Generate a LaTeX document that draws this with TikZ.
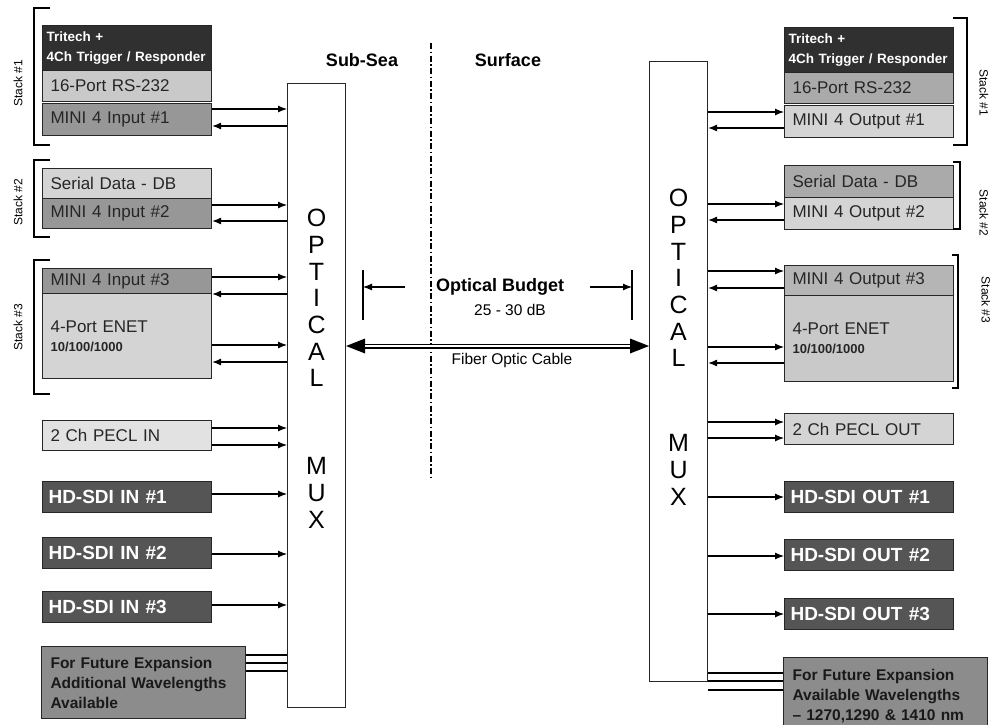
\documentclass[tikz,border=0pt]{standalone}
\usepackage{fontspec}
\setmainfont{Liberation Sans}
\usetikzlibrary{
    arrows.meta,
    calc,
    positioning
}

\definecolor{tridark}{HTML}{303030}
\definecolor{sdigray}{HTML}{555555}
\definecolor{midgray}{HTML}{979797}
\definecolor{futgray}{HTML}{8C8C8C}
\definecolor{ltgray}{HTML}{C9C9C9}
\definecolor{paler}{HTML}{D4D4D4}
\definecolor{palest}{HTML}{E2E2E2}
\definecolor{rsgray}{HTML}{AAAAAA}
\definecolor{outgray}{HTML}{B5B5B5}
\definecolor{boxtext}{HTML}{262626}

\newcommand{\enetsub}[1]{{\bfseries\fontsize{13}{14}\selectfont #1}}

\tikzset{
    unit/.style={draw=black!85, line width=1.1pt, anchor=north west,
        inner xsep=8pt, inner ysep=0pt, text width=153pt, align=left,
        text=boxtext, font=\fontsize{17}{19}\selectfont},
    tri/.style={unit, fill=tridark, text=white, inner xsep=4pt, text width=161pt,
        minimum height=45pt, font=\bfseries\fontsize{13.5}{20}\selectfont},
    sdi/.style={unit, fill=sdigray, text=white, inner xsep=6pt, text width=157pt,
        minimum height=31pt, font=\bfseries\fontsize{19}{20}\selectfont},
    future/.style={unit, fill=futgray, text=black!90, inner xsep=9pt, text width=186pt,
        font=\bfseries\fontsize{15.5}{20}\selectfont},
    mux/.style={draw=black!85, line width=1.1pt, anchor=north west,
        minimum width=58pt, inner sep=0pt},
    muxtext/.style={align=center, inner sep=0pt, font=\fontsize{25}{26.7}\selectfont},
    side/.style={font=\bfseries\fontsize{18}{20}\selectfont},
    plain/.style={font=\fontsize{15.5}{18}\selectfont},
    stacklabel/.style={font=\fontsize{12}{13}\selectfont},
    divider/.style={dash pattern=on 6pt off 2.5pt on 1.5pt off 2.5pt, line width=1.2pt},
    fibretip/.tip={Triangle[length=19pt,width=15pt,line width=0pt]}
}

\begin{document}
\begin{tikzpicture}[x=1pt, y=-1pt, line width=1.1pt,
    >={Latex[length=9pt,width=7pt]}]
    \useasboundingbox (0,0) rectangle (990,724);

    % optical multiplexers
    \node[mux, minimum height=624pt] (lmux) at (287,83) {};
    \node[mux, minimum height=620pt] (rmux) at (649,61) {};
    \node[muxtext] (lopt) at (lmux.north |- 0,298) {O\\P\\T\\I\\C\\A\\L};
    \node[muxtext] (lmx) at (lmux.north |- 0,493) {M\\U\\X};
    \node[muxtext] (ropt) at (rmux.north |- 0,278) {O\\P\\T\\I\\C\\A\\L};
    \node[muxtext] (rmx) at (rmux.north |- 0,470) {M\\U\\X};

    \node[side] (subsea) at (362,60) {Sub-Sea};
    \node[side] (surface) at (508,60) {Surface};
    \draw[divider] (431,43) -- (431,480);

    % sub-sea modules
    \node[tri] (ltri) at (42,25) {Tritech +\\4Ch Trigger / Responder};
    \node[unit, fill=ltgray, minimum height=31pt] (lrs) at (42,70) {16-Port RS-232};
    \node[unit, fill=midgray, minimum height=32pt] (lmini1) at (42,103) {MINI 4 Input \#1};
    \node[unit, fill=paler, minimum height=30pt] (lser) at (42,168) {Serial Data - DB};
    \node[unit, fill=midgray, minimum height=30pt] (lmini2) at (42,198) {MINI 4 Input \#2};
    \node[unit, fill=midgray, minimum height=25pt] (lmini3) at (42,268) {MINI 4 Input \#3};
    \node[unit, fill=paler, minimum height=85pt] (lenet) at (42,293) {4-Port ENET\\\enetsub{10/100/1000}};
    \node[unit, fill=palest, minimum height=30pt] (lpecl) at (42,420) {2 Ch PECL IN};
    \node[sdi] (lhd1) at (42,481) {HD-SDI IN \#1};
    \node[sdi] (lhd2) at (42,537) {HD-SDI IN \#2};
    \node[sdi] (lhd3) at (42,591) {HD-SDI IN \#3};
    \node[future, minimum height=72pt] (lfut) at (41,646) {For Future Expansion\\Additional Wavelengths\\Available};

    % surface modules
    \node[tri] (rtri) at (784,27) {Tritech +\\4Ch Trigger / Responder};
    \node[unit, fill=rsgray, minimum height=31pt] (rrs) at (784,72) {16-Port RS-232};
    \node[unit, fill=paler, minimum height=32pt] (rmini1) at (784,105) {MINI 4 Output \#1};
    \node[unit, fill=rsgray, minimum height=32pt] (rser) at (784,165) {Serial Data - DB};
    \node[unit, fill=paler, minimum height=32pt] (rmini2) at (784,197) {MINI 4 Output \#2};
    \node[unit, fill=outgray, minimum height=30pt] (rmini3) at (784,265) {MINI 4 Output \#3};
    \node[unit, fill=ltgray, minimum height=86pt] (renet) at (784,295) {4-Port ENET\\\enetsub{10/100/1000}};
    \node[unit, fill=paler, minimum height=31pt] (rpecl) at (784,413) {2 Ch PECL OUT};
    \node[sdi] (rhd1) at (784,481) {HD-SDI OUT \#1};
    \node[sdi] (rhd2) at (784,539) {HD-SDI OUT \#2};
    \node[sdi] (rhd3) at (784,598) {HD-SDI OUT \#3};
    \node[future, minimum height=78pt] (rfut) at (783,657) {For Future Expansion\\Available Wavelengths\\-- 1270,1290 \& 1410 nm};

    % stack brackets
    \draw (50,8) -- (34,8) -- (34,145) -- (50,145);
    \draw (50,160) -- (34,160) -- (34,237) -- (50,237);
    \draw (50,260) -- (34,260) -- (34,394) -- (50,394);
    \draw (953,18) -- (967,18) -- (967,145) -- (953,145);
    \draw (953,162) -- (960,162) -- (960,229) -- (953,229);
    \draw (952,255) -- (958,255) -- (958,388) -- (952,388);
    \node[stacklabel, rotate=90] (lst1) at (18,83) {Stack \#1};
    \node[stacklabel, rotate=90] (lst2) at (18,202) {Stack \#2};
    \node[stacklabel, rotate=90] (lst3) at (18,327) {Stack \#3};
    \node[stacklabel, rotate=-90] (rst1) at (984,93) {Stack \#1};
    \node[stacklabel, rotate=-90] (rst2) at (984,213) {Stack \#2};
    \node[stacklabel, rotate=-90] (rst3) at (986,300) {Stack \#3};

    % links into and out of the multiplexers
    \foreach \n/\y in {lmini1/109, lmini2/205, lmini3/277, lenet/345, lpecl/428,
            lpecl/445, lhd1/494, lhd2/554, lhd3/605}
        \draw[->] (\n.east |- 0,\y) -- (lmux.west |- 0,\y);
    \foreach \n/\y in {lmini1/126, lmini2/221, lmini3/294, lenet/362}
        \draw[->] (lmux.west |- 0,\y) -- (\n.east |- 0,\y);
    \foreach \y in {655, 663, 671}
        \draw (lfut.east |- 0,\y) -- (lmux.west |- 0,\y);

    \foreach \n/\y in {rmini1/112, rmini2/204, rmini3/271, renet/347, rpecl/422,
            rpecl/438, rhd1/497, rhd2/556, rhd3/614}
        \draw[->] (rmux.east |- 0,\y) -- (\n.west |- 0,\y);
    \foreach \n/\y in {rmini1/128, rmini2/220, rmini3/288, renet/363}
        \draw[->] (\n.west |- 0,\y) -- (rmux.east |- 0,\y);
    \foreach \y in {673, 681, 690}
        \draw (rmux.east |- 0,\y) -- (rfut.west |- 0,\y);

    % fibre link and budget
    \draw[line width=5pt, fibretip-fibretip] (lmux.east |- 0,346) -- (rmux.west |- 0,346);
    \draw[white, line width=2pt, shorten <=19pt, shorten >=19pt] (lmux.east |- 0,346) -- (rmux.west |- 0,346);
    \node[plain] (cable) at (512,360) {Fiber Optic Cable};

    \node[side] (budget) at (500,287) {Optical Budget};
    \node[plain] (db) at (510,310) {25 - 30 dB};
    \coordinate (bl) at (363,287);
    \coordinate (br) at (632,287);
    \draw ([yshift=17pt]bl) -- ([yshift=-33pt]bl);
    \draw ([yshift=17pt]br) -- ([yshift=-33pt]br);
    \draw[->] ([xshift=-27pt]budget.west) -- (bl);
    \draw[->] ([xshift=22pt]budget.east) -- (br);
\end{tikzpicture}
\end{document}
